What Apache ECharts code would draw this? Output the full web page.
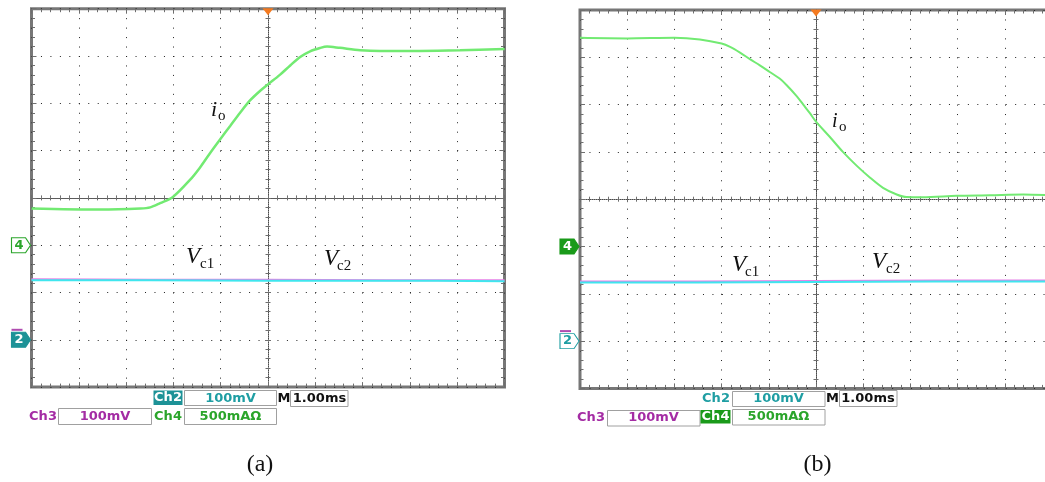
<!DOCTYPE html>
<html><head><meta charset="utf-8">
<script src="https://cdn.jsdelivr.net/npm/echarts@6/dist/echarts.min.js"></script>
<style>html,body{margin:0;padding:0;background:#fff}#c{width:1045px;height:482px}</style>
</head><body><div id="c"></div>
<script>
// ---------- data (time in ms relative to trigger, i_o in A, Vc in mV) ----------
const timeA = [-5, -3.55, -2.7, -2.49, -2.28, -2.01, -1.65, -1.44, -1.23, -1.01, -0.8, -0.59, -0.38, -0.17, 0, 0.25, 0.47, 0.68, 0.89, 1.1, 1.25, 1.52, 1.95, 2.37, 3.21, 4.06, 5];
const ioA   = [0.388, 0.377, 0.388, 0.40, 0.445, 0.51, 0.69, 0.82, 0.97, 1.12, 1.26, 1.40, 1.53, 1.63, 1.70, 1.80, 1.90, 1.99, 2.05, 2.085, 2.10, 2.086, 2.062, 2.054, 2.054, 2.06, 2.075];
const timeVA = [-5, -2.5, 0, 2.5, 5];
const vc1A = [126, 126, 125, 125, 124];
const vc2A = [128, 127, 127, 126, 126];

const timeB = [-5, -4, -3, -2.46, -2.0, -1.82, -1.61, -1.40, -1.19, -0.98, -0.77, -0.62, -0.41, -0.27, -0.13, 0, 0.29, 0.57, 0.86, 1.14, 1.42, 1.71, 1.92, 2.26, 2.98, 3.68, 4.39, 5];
const ioB   = [2.206, 2.20, 2.206, 2.188, 2.145, 2.11, 2.05, 1.98, 1.915, 1.845, 1.775, 1.705, 1.59, 1.50, 1.41, 1.32, 1.16, 1.00, 0.855, 0.73, 0.62, 0.55, 0.522, 0.52, 0.536, 0.542, 0.55, 0.54];
const timeVB = [-5, -2.5, 0, 2.5, 5];
const vc1B = [124, 124, 125, 126, 126];
const vc2B = [126, 126, 127, 128, 128];

const panelCaptions = ['(a)', '(b)'];
const chLabels = { ch2: 'Ch2', ch3: 'Ch3', ch4: 'Ch4', v100: '100mV', a500: '500mA\u03A9', m: 'M', tdiv: '1.00ms' };

// ---------- styles ----------
const GRIDDOT = '#222', EDGE = '#777', TICK = '#6e6e6e';
const GREEN = '#72ea72', CYAN = '#3fe6ee', PINK = '#e680e6';
const TEAL = '#1f9ea3', MAG = '#a42ca4', TGREEN = '#2ba52b';
const serif = '"Liberation Serif", "Times New Roman", serif';
const sans = 'bold 13px "DejaVu Sans", sans-serif';
const PENT = 'path://M0,0L14,0L19,7.5L14,15L0,15Z';

function edgeAxis(dim, g, pos, split) {
  const lim = dim === 'x' ? { min: -5, max: 5 } : { min: -4, max: 4 };
  return Object.assign({ type: 'value', gridIndex: g, interval: 1, position: pos,
    axisLine: { show: false, onZero: false }, axisLabel: { show: false },
    axisTick: { show: true, inside: true, length: 5, lineStyle: { color: TICK } },
    minorTick: { show: true, splitNumber: 5, length: 3.5, lineStyle: { color: TICK } },
    splitLine: { show: split, lineStyle: { color: GRIDDOT, width: 1, type: [1, 8.46] } },
    minorSplitLine: { show: false } }, lim);
}
function centerAxis(dim, g, zeroIdx, inside, line) {
  const lim = dim === 'x' ? { min: -5, max: 5 } : { min: -4, max: 4 };
  return Object.assign({ type: 'value', gridIndex: g, interval: 1, position: dim === 'x' ? 'bottom' : 'left',
    axisLine: { show: line, onZero: true, onZeroAxisIndex: zeroIdx, lineStyle: { color: '#4a4a4a', width: 1, type: [1, 1] } },
    axisLabel: { show: false },
    axisTick: { show: true, inside: inside, length: 3, lineStyle: { color: TICK } },
    minorTick: { show: true, splitNumber: 5, length: 2.5, lineStyle: { color: TICK } },
    splitLine: { show: false } }, lim);
}
function hiddenY(g, min, max) {
  return { type: 'value', gridIndex: g, min: min, max: max, show: false, axisLine: { onZero: false }, splitLine: { show: false } };
}

const xAxis = [], yAxis = [];
[0, 1].forEach(function (g) {
  const xb = g * 4, yb = g * 6;
  xAxis.push(edgeAxis('x', g, 'bottom', true));      // xb+0 time (ms)
  xAxis.push(edgeAxis('x', g, 'top', false));        // xb+1
  xAxis.push(centerAxis('x', g, yb, true, true));    // xb+2
  xAxis.push(centerAxis('x', g, yb, false, false));  // xb+3
  yAxis.push(edgeAxis('y', g, 'left', true));        // yb+0 divisions
  yAxis.push(edgeAxis('y', g, 'right', false));      // yb+1
  yAxis.push(centerAxis('y', g, xb, true, true));    // yb+2
  yAxis.push(centerAxis('y', g, xb, false, false));  // yb+3
  yAxis.push(hiddenY(g, -1.5, 2.5));                 // yb+4 current (A), 500 mA/div
  yAxis.push(hiddenY(g, -100, 700));                 // yb+5 voltage (mV), 100 mV/div
});

function pairs(t, v) { return t.map(function (x, i) { return [x, v[i]]; }); }
function trace(name, g, yi, t, v, color, w, z, marks) {
  const s = { name: name, type: 'line', xAxisIndex: g * 4, yAxisIndex: g * 6 + yi, data: pairs(t, v),
    showSymbol: false, smooth: 0.3, z: z,
    lineStyle: { color: color, width: w }, itemStyle: { color: color } };
  if (marks) s.markPoint = { silent: true, animation: false, data: marks };
  return s;
}
function trig() {
  return { coord: [0, 2.5], symbol: 'triangle', symbolRotate: 180, symbolSize: [11, 7], symbolOffset: [0, 3],
    itemStyle: { color: '#f47a20' }, label: { show: false } };
}
function gnd(y, text, fill, border, txtColor) {
  return { coord: [-5, y], symbol: PENT, symbolSize: [19, 15], symbolOffset: [-10.5, 0],
    itemStyle: { color: fill, borderColor: border, borderWidth: 1 },
    label: { show: true, position: 'inside', offset: [-2, 0], formatter: text, color: txtColor, fontSize: 13, fontWeight: 'bold', fontFamily: 'DejaVu Sans' } };
}
function bar() {
  return { coord: [-5, 0], symbol: 'rect', symbolSize: [11, 2], symbolOffset: [-14.5, -10],
    itemStyle: { color: '#b04cb0' }, label: { show: false } };
}

const series = [
  trace('Vc2 (a)', 0, 5, timeVA, vc2A, PINK, 2, 3, [bar()]),
  trace('Vc1 (a)', 0, 5, timeVA, vc1A, CYAN, 2, 4, [gnd(0, '2', '#1d9297', '#1d9297', '#fff')]),
  trace('io (a)', 0, 4, timeA, ioA, GREEN, 2.5, 5, [trig(), gnd(0, '4', '#fff', TGREEN, TGREEN)]),
  trace('Vc2 (b)', 1, 5, timeVB, vc2B, PINK, 2, 3, [bar()]),
  trace('Vc1 (b)', 1, 5, timeVB, vc1B, CYAN, 2, 4, [gnd(0, '2', '#fff', TEAL, TEAL)]),
  trace('io (b)', 1, 4, timeB, ioB, GREEN, 2, 5, [trig(), gnd(0, '4', '#1a9a1a', '#1a9a1a', '#fff')])
];

function T(x, y, text, font, fill, align) {
  return { type: 'text', x: x, y: y, z: 20, silent: true,
    style: { text: text, font: font, fill: fill, align: align || 'left', verticalAlign: 'middle' } };
}
function R(x, y, w, h, fill, stroke) {
  return { type: 'rect', z: 19, silent: true, shape: { x: x, y: y, width: w, height: h },
    style: { fill: fill, stroke: stroke || null, lineWidth: 1 } };
}
const BOX = '#a0a0a0';
const graphic = [
  // trace labels (a)
  T(211, 110.7, 'i', 'italic 22px ' + serif, '#111'),
  T(218, 116.5, 'o', '15px ' + serif, '#111'),
  T(186, 257.4, 'V', 'italic 23px ' + serif, '#111'),
  T(200, 264.5, 'c1', '15px ' + serif, '#111'),
  T(324, 259.4, 'V', 'italic 23px ' + serif, '#111'),
  T(337, 266, 'c2', '15px ' + serif, '#111'),
  // trace labels (b)
  T(832, 121.4, 'i', 'italic 20px ' + serif, '#111'),
  T(839, 127.5, 'o', '15px ' + serif, '#111'),
  T(732, 265.4, 'V', 'italic 23px ' + serif, '#111'),
  T(745, 272, 'c1', '15px ' + serif, '#111'),
  T(872, 262.4, 'V', 'italic 23px ' + serif, '#111'),
  T(886, 269, 'c2', '15px ' + serif, '#111'),
  // status bar (a)
  R(153.5, 390.5, 29, 14.5, '#1d9297'), T(168, 398, chLabels.ch2, sans, '#fff', 'center'),
  R(184.5, 390.5, 92, 15, '#fff', BOX), T(230.5, 398.5, chLabels.v100, sans, TEAL, 'center'),
  T(284, 398.5, chLabels.m, sans, '#111', 'center'),
  R(290.5, 390.5, 57.5, 16, '#fff', BOX), T(319.5, 398.5, chLabels.tdiv, sans, '#111', 'center'),
  T(43, 416.5, chLabels.ch3, sans, MAG, 'center'),
  R(58.5, 408.5, 93, 16, '#fff', BOX), T(105, 416.5, chLabels.v100, sans, MAG, 'center'),
  T(168, 416.5, chLabels.ch4, sans, TGREEN, 'center'),
  R(184.5, 408.5, 92, 16, '#fff', BOX), T(230.5, 416.5, chLabels.a500, sans, TGREEN, 'center'),
  // status bar (b)
  T(716, 399, chLabels.ch2, sans, TEAL, 'center'),
  R(732.5, 391.5, 92.5, 15, '#fff', BOX), T(778.5, 399, chLabels.v100, sans, TEAL, 'center'),
  T(832.5, 398.5, chLabels.m, sans, '#111', 'center'),
  R(839.5, 390.5, 57.5, 16, '#fff', BOX), T(868, 398.5, chLabels.tdiv, sans, '#111', 'center'),
  T(591, 418, chLabels.ch3, sans, MAG, 'center'),
  R(607.5, 410.5, 92.5, 15.5, '#fff', BOX), T(653.5, 418, chLabels.v100, sans, MAG, 'center'),
  R(700.5, 410, 30, 13.5, '#1a9a1a'), T(715.5, 417, chLabels.ch4, sans, '#fff', 'center'),
  R(732.5, 409.5, 92.5, 15.5, '#fff', BOX), T(778.5, 417, chLabels.a500, sans, TGREEN, 'center'),
  // captions
  T(260, 465, panelCaptions[0], '24px ' + serif, '#111', 'center'),
  T(817.5, 465, panelCaptions[1], '24px ' + serif, '#111', 'center')
];

const chart = echarts.init(document.getElementById('c'), null, { renderer: 'canvas' });
chart.setOption({
  animation: false,
  backgroundColor: '#fff',
  grid: [
    { left: 31.5, top: 8.7, width: 473, height: 378.4, show: true, borderColor: EDGE, borderWidth: 3, backgroundColor: 'transparent', containLabel: false, outerBoundsMode: 'none' },
    { left: 580, top: 10, width: 472, height: 378.4, show: true, borderColor: EDGE, borderWidth: 3, backgroundColor: 'transparent', containLabel: false, outerBoundsMode: 'none' }
  ],
  xAxis: xAxis,
  yAxis: yAxis,
  series: series,
  graphic: graphic
});
</script>
</body></html>
